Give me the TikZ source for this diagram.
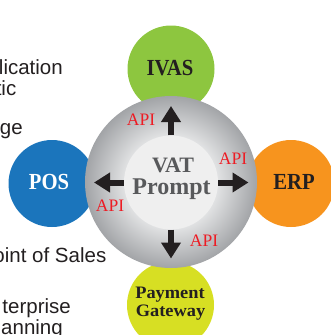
\documentclass[tikz,border=0pt]{standalone}
\usepackage{fontspec}
\setmainfont{Liberation Serif}
\newfontfamily\sidefont{Liberation Sans}
\usetikzlibrary{arrows.meta}
\definecolor{ivasgreen}{HTML}{8DC63F}
\definecolor{posblue}{HTML}{1B75BC}
\definecolor{erporange}{HTML}{F7941E}
\definecolor{pgyellow}{HTML}{D7DF23}
\definecolor{darktext}{HTML}{231F20}
\definecolor{vatgray}{HTML}{58595B}
\definecolor{apired}{HTML}{ED1C24}
\definecolor{ringin}{HTML}{E4E5E6}
\definecolor{ringout}{HTML}{A2A4A7}
\definecolor{innerfill}{HTML}{EFEFEF}
\definecolor{sidetext}{HTML}{231F20}
\pgfdeclareradialshading{ringshade}{\pgfpoint{0bp}{0bp}}{color(0bp)=(ringin); color(13bp)=(ringin); color(25bp)=(ringout); color(50bp)=(ringout)}
\newcommand{\narrow}[1]{\scalebox{0.9}[1]{#1}}
\newcommand{\widen}[1]{\scalebox{1.05}[1]{#1}}
\tikzset{
  sat/.style={circle, inner sep=0pt, minimum size=87pt, draw=none},
  boldlbl/.style={anchor=base, inner sep=0pt, font=\bfseries\fontsize{23}{23}\selectfont},
  pglbl/.style={anchor=base, inner sep=0pt, text=darktext, font=\bfseries\fontsize{17.5}{17.5}\selectfont},
  apilbl/.style={inner sep=0pt, text=apired, font=\fontsize{17.5}{17.5}\selectfont},
  sidelbl/.style={anchor=base east, inner sep=0pt, text=sidetext, font=\sidefont\fontsize{20.5}{20.5}\selectfont},
  bigarrow/.style={line width=6pt, draw=darktext, -{Triangle[width=19pt,length=16pt]}}
}
\begin{document}
\begin{tikzpicture}[x=1pt,y=-1pt]
\useasboundingbox (0,0) rectangle (331,335);
% side texts
\node[sidelbl] (s1) at (63,74) {lication};
\node[sidelbl] (s2) at (16.5,95) {tic};
\node[sidelbl] (s3) at (23,134) {ge};
\node[sidelbl] (s4) at (106.5,262) {oint of Sales};
\node[sidelbl] (s5) at (71,313.5) {terprise};
\node[sidelbl] (s6) at (63,334.5) {anning};
% satellite circles
\node[sat, fill=ivasgreen] (ivas) at (171,69) {};
\node[sat, fill=posblue] (pos) at (52,183.5) {};
\node[sat, fill=erporange] (erp) at (291,183.5) {};
\node[sat, fill=pgyellow] (pg) at (170.5,305) {};
% central ring
\node[circle, inner sep=0pt, minimum size=172pt, shading=ringshade] (ring) at (171,182) {};
\node[circle, inner sep=0pt, minimum size=94pt, fill=innerfill] (vat) at (171,182.5) {};
% texts
\node[boldlbl, text=darktext] (ivast) at (170,75) {\narrow{IVAS}};
\node[boldlbl, text=white] (post) at (49,189) {\narrow{POS}};
\node[boldlbl, text=darktext] (erpt) at (294,189.5) {\narrow{ERP}};
\node[boldlbl, text=vatgray, font=\bfseries\fontsize{22}{22}\selectfont] (vat1) at (173,172) {VAT};
\node[boldlbl, text=vatgray, font=\bfseries\fontsize{24}{24}\selectfont] (vat2) at (171.5,194) {Prompt};
\node[pglbl] (pg1) at (170,298.5) {\widen{Payment}};
\node[pglbl] (pg2) at (170.5,316) {\widen{Gateway}};
% arrows
\coordinate (tipN) at (171,106);
\coordinate (tipE) at (248.5,182.5);
\coordinate (tipW) at (94,182.5);
\coordinate (tipS) at (171,258.5);
\draw[bigarrow] (vat.north) -- (tipN);
\draw[bigarrow] (vat.east) -- (tipE);
\draw[bigarrow] (vat.west) -- (tipW);
\draw[bigarrow] (vat.south) -- (tipS);
% API labels
\node[apilbl] (api1) at (141,120) {API};
\node[apilbl] (api2) at (233,158.5) {API};
\node[apilbl] (api3) at (110,205.5) {API};
\node[apilbl] (api4) at (204,240.5) {API};
\end{tikzpicture}
\end{document}
